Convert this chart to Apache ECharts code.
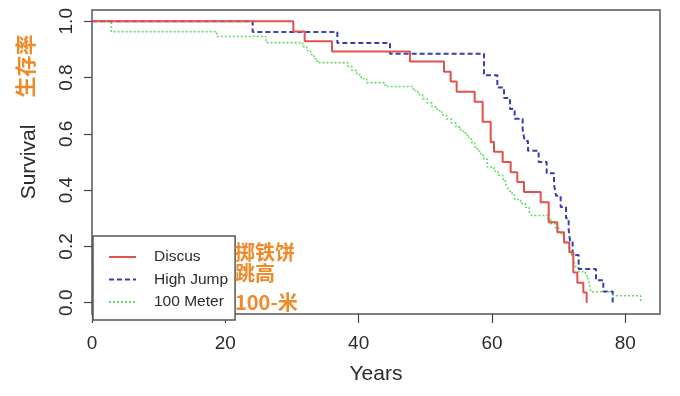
<!DOCTYPE html>
<html>
<head>
<meta charset="utf-8">
<script src="https://cdn.jsdelivr.net/npm/echarts@6/dist/echarts.min.js"></script>
<style>
html,body{margin:0;padding:0;background:#fff;}
#c{width:680px;height:396px;}
</style>
</head>
<body>
<div id="c"></div>
<script>
// ---- data (Kaplan-Meier step points: time of drop, survival after drop) ----
const seriesNames = ["Discus", "High Jump", "100 Meter"];
const xTicks = [0, 20, 40, 60, 80];
const yTicks = [0, 0.2, 0.4, 0.6, 0.8, 1.0];
const yTickLabels = ["0.0", "0.2", "0.4", "0.6", "0.8", "1.0"];

const discusTimes = [0, 30.2, 31.9, 36.0, 47.7, 52.8, 53.8, 54.7, 57.4, 58.6, 59.8, 60.3, 61.6, 62.8, 63.8, 64.8, 67.3, 68.5, 69.8, 70.8, 71.6, 72.2, 72.8, 73.7, 74.2];
const discusSurv  = [1, 0.964, 0.929, 0.893, 0.857, 0.821, 0.786, 0.75, 0.714, 0.643, 0.571, 0.536, 0.5, 0.464, 0.429, 0.393, 0.357, 0.286, 0.25, 0.214, 0.179, 0.107, 0.071, 0.036, 0];

const highJumpTimes = [0, 24.1, 36.8, 44.7, 58.8, 60.8, 61.8, 62.7, 63.4, 64.6, 64.9, 65.4, 67.0, 68.2, 69.3, 69.6, 70.3, 71.1, 71.5, 71.7, 72.1, 73.0, 75.6, 76.7, 78.1];
const highJumpSurv  = [1, 0.962, 0.923, 0.885, 0.808, 0.765, 0.727, 0.688, 0.654, 0.615, 0.575, 0.54, 0.5, 0.46, 0.42, 0.38, 0.34, 0.3, 0.26, 0.22, 0.17, 0.12, 0.08, 0.04, 0];

const meterTimes = [0, 2.9, 18.7, 26.1, 31.6, 32.2, 32.8, 33.3, 33.8, 38.4, 39.0, 39.7, 40.4, 41.2, 44.0, 48.2, 48.9, 49.6, 50.3, 51.0, 51.8, 52.5, 53.2, 53.9, 54.6, 55.3, 56.0, 56.5, 57.0, 57.4, 57.8, 58.3, 58.8, 59.3, 60.3, 60.9, 61.6, 62.0, 62.3, 62.6, 63.0, 63.4, 64.3, 65.0, 65.6, 65.9, 68.4, 68.8, 69.5, 70.0, 70.4, 70.8, 71.1, 71.5, 71.8, 72.0, 72.2, 72.4, 72.6, 73.0, 74.0, 74.4, 74.6, 74.8, 78.2, 82.3];
const meterSurv  = [1, 0.963, 0.946, 0.924, 0.91, 0.896, 0.882, 0.867, 0.853, 0.839, 0.825, 0.81, 0.796, 0.782, 0.768, 0.753, 0.739, 0.725, 0.71, 0.696, 0.682, 0.667, 0.653, 0.639, 0.624, 0.61, 0.596, 0.581, 0.567, 0.553, 0.539, 0.524, 0.51, 0.482, 0.468, 0.453, 0.439, 0.425, 0.41, 0.396, 0.382, 0.367, 0.353, 0.339, 0.324, 0.31, 0.296, 0.281, 0.267, 0.253, 0.239, 0.224, 0.21, 0.196, 0.181, 0.167, 0.153, 0.139, 0.124, 0.11, 0.096, 0.082, 0.068, 0.039, 0.025, 0];

const zip = (xs, ys) => xs.map((x, i) => [x, ys[i]]);

const chart = echarts.init(document.getElementById('c'), null, {renderer: 'canvas'});
const FONT = 'Liberation Sans, Arial, sans-serif';
const TXT = '#2b2b2b';
const ORANGE = '#F08A28';
const CJK = '"Noto Sans CJK SC", sans-serif';

chart.setOption({
  animation: false,
  backgroundColor: '#ffffff',
  grid: {
    left: 92, right: 20, top: 10, bottom: 82,
    show: true, borderColor: '#555', borderWidth: 1.5, backgroundColor: 'transparent'
  },
  xAxis: {
    type: 'value', min: 0, max: 85.2,
    name: 'Years', nameLocation: 'middle', nameGap: 50,
    nameTextStyle: {fontFamily: FONT, fontSize: 21, color: TXT},
    axisLine: {show: false, onZero: false},
    axisTick: {show: true, length: 9, inside: false, customValues: xTicks, lineStyle: {color: '#444', width: 1.2}},
    axisLabel: {customValues: xTicks, margin: 20, fontFamily: FONT, fontSize: 19, color: TXT},
    splitLine: {show: false}
  },
  yAxis: {
    type: 'value', min: -0.04, max: 1.04,
    name: 'Survival', nameLocation: 'middle', nameGap: 52,
    nameTextStyle: {fontFamily: FONT, fontSize: 21, color: TXT},
    axisLine: {show: false, onZero: false},
    axisTick: {show: true, length: 8, inside: false, customValues: yTicks, lineStyle: {color: '#444', width: 1.2}},
    axisLabel: {
      customValues: yTicks, rotate: 90, margin: 16, fontFamily: FONT, fontSize: 19, color: TXT,
      formatter: v => yTickLabels[yTicks.findIndex(t => Math.abs(t - v) < 1e-6)] ?? v.toFixed(1)
    },
    splitLine: {show: false}
  },
  legend: {
    orient: 'vertical', left: 93, top: 236,
    padding: [13, 7, 10, 15],
    backgroundColor: '#fff', borderColor: '#555', borderWidth: 1.5, borderRadius: 0,
    itemWidth: 27, itemHeight: 14, itemGap: 6.5,
    itemStyle: {opacity: 0},
    textStyle: {fontFamily: FONT, fontSize: 15.5, color: TXT, padding: [0, 0, 0, 13]},
    data: seriesNames
  },
  series: [
    {name: seriesNames[0], type: 'line', step: 'end', symbol: 'none', data: zip(discusTimes, discusSurv),
     lineStyle: {color: '#E2524C', width: 2, type: 'solid'}, itemStyle: {color: '#E2524C'}, z: 3},
    {name: seriesNames[1], type: 'line', step: 'end', symbol: 'none', data: zip(highJumpTimes, highJumpSurv),
     lineStyle: {color: '#3C3CB2', width: 2, type: [5, 3]}, itemStyle: {color: '#3C3CB2'}, z: 2},
    {name: seriesNames[2], type: 'line', step: 'end', symbol: 'none', data: zip(meterTimes, meterSurv),
     lineStyle: {color: '#62DC62', width: 1.6, type: [2, 2]}, itemStyle: {color: '#62DC62'}, z: 1}
  ],
  graphic: [
    {type: 'text', x: 25, y: 66, rotation: Math.PI / 2, z: 100,
     style: {text: '生存率', fill: ORANGE, font: 'bold 21px ' + CJK, align: 'center', verticalAlign: 'middle'}},
    {type: 'text', x: 235, y: 252, z: 100,
     style: {text: '掷铁饼', fill: ORANGE, font: 'bold 20px ' + CJK, align: 'left', verticalAlign: 'middle'}},
    {type: 'text', x: 235, y: 273, z: 100,
     style: {text: '跳高', fill: ORANGE, font: 'bold 20px ' + CJK, align: 'left', verticalAlign: 'middle'}},
    {type: 'text', x: 235, y: 302, z: 100,
     style: {text: '100-米', fill: ORANGE, font: 'bold 20px ' + CJK, align: 'left', verticalAlign: 'middle'}}
  ]
});
</script>
</body>
</html>
